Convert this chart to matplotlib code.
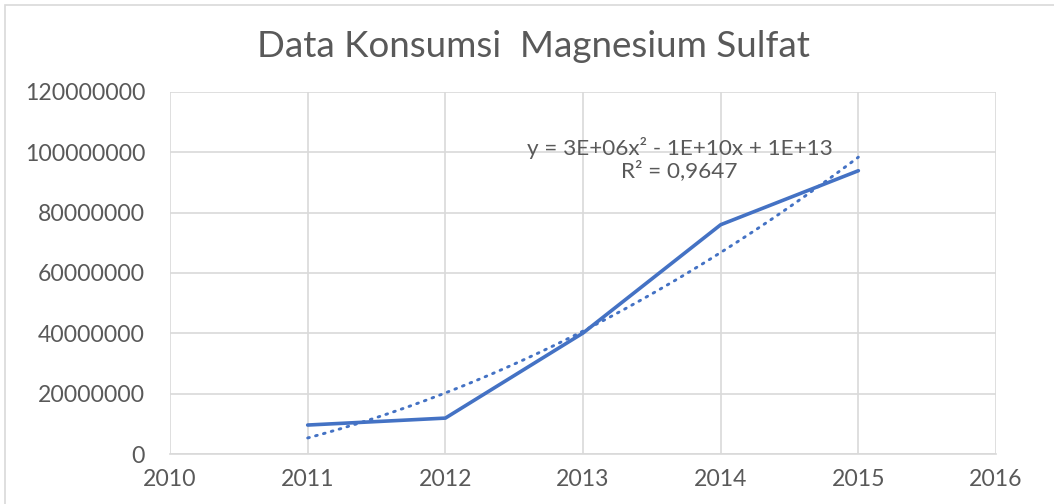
import numpy as np
import matplotlib.pyplot as plt
from matplotlib.patches import Rectangle

plt.rcParams['font.family'] = ['Lato', 'DejaVu Sans']

years = [2011, 2012, 2013, 2014, 2015]
konsumsi = [9.6e6, 11.9e6, 40.1e6, 76.0e6, 93.9e6]
title = 'Data Konsumsi  Magnesium Sulfat'
eq_text = 'y = 3E+06x² - 1E+10x + 1E+13\nR² = 0,9647'

grey = '#595959'
grid = '#d9d9d9'
blue = '#4472C4'

fig = plt.figure(figsize=(10.54, 5.04), dpi=100)
fig.patches.append(Rectangle((0.005, -0.1), 1.2, 1.09, transform=fig.transFigure,
                             fill=False, edgecolor=grid, linewidth=1.2))
ax = fig.add_axes([0.1613, 0.0992, 0.7837, 0.7183])

x = np.array(years, dtype=float)
y = np.array(konsumsi)
coef = np.polyfit(x - 2013, y, 2)
xt = np.linspace(2011, 2015, 200)
yt = np.polyval(coef, xt - 2013)

ax.plot(x, y, color=blue, linewidth=2.6, solid_capstyle='round', zorder=3)
ax.plot(xt, yt, color=blue, linewidth=2.1, linestyle=(0, (0.6, 2.2)),
        dash_capstyle='round', zorder=3)

ax.set_xlim(2010, 2016)
ax.set_ylim(0, 120000000)
ax.set_xticks(range(2010, 2017))
ax.set_yticks(range(0, 120000001, 20000000))
ax.yaxis.set_major_formatter(plt.FuncFormatter(lambda v, p: f'{int(v)}'))
ax.grid(True, color=grid, linewidth=1.2)
ax.set_axisbelow(True)
for s in ['left', 'right', 'top']:
    ax.spines[s].set_visible(False)
ax.spines['bottom'].set_color(grid)
ax.spines['bottom'].set_linewidth(1.2)
ax.tick_params(length=0, labelsize=16.6, colors=grey, pad=11)
ax.tick_params(axis='y', pad=18)

ax.text(2013.70, 97.8e6, eq_text, ha='center', va='center', fontsize=16.2,
        color=grey, linespacing=1.1)

fig.text(0.506, 0.907, title, ha='center', va='center', fontsize=26.5, color=grey)

fig.savefig('out.png', dpi=100)
